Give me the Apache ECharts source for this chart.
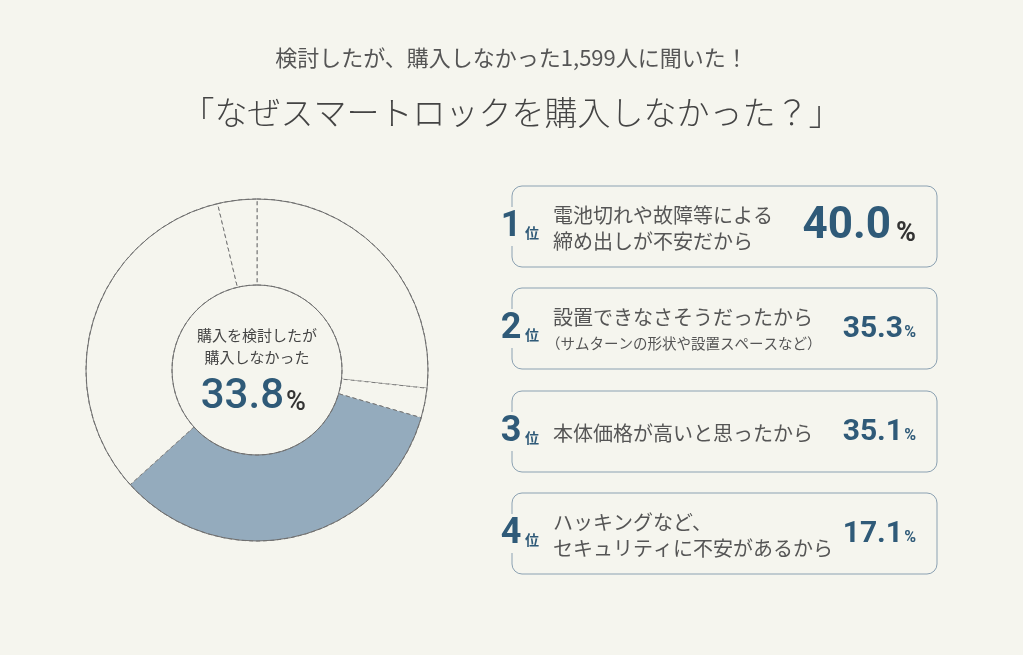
<!DOCTYPE html>
<html>
<head>
<meta charset="utf-8">
<script src="https://cdn.jsdelivr.net/npm/echarts@6/dist/echarts.min.js"></script>
<style>
  html, body { margin: 0; padding: 0; background: #f5f5ee; }
  #main { width: 1023px; height: 655px; }
</style>
</head>
<body>
<div id="main"></div>
<script>
// ドーナツの区分（上から時計回り、%）
var ringNames = ['区分1', '区分2', '購入を検討したが購入しなかった', '区分4', '区分5'];
var ringValues = [26.7, 2.8, 33.8, 33.0, 3.7];
var highlightIndex = 2;

// 購入しなかった理由ランキング
var ranks = ['1', '2', '3', '4'];
var reasons = [
  ['電池切れや故障等による', '締め出しが不安だから'],
  ['設置できなさそうだったから'],
  ['本体価格が高いと思ったから'],
  ['ハッキングなど、', 'セキュリティに不安があるから']
];
var notes = ['', '（サムターンの形状や設置スペースなど）', '', ''];
var shares = [40.0, 35.3, 35.1, 17.1];

var BG = '#f5f5ee';
var NAVY = '#2f5a78';
var JP = '"Noto Sans CJK JP", "Noto Sans", sans-serif';
var NUM = 'Roboto, "Noto Sans", sans-serif';

var myChart = echarts.init(document.getElementById('main'));

var graphics = [];

// 中央テキスト
graphics.push({
  type: 'text', x: 257, y: 335,
  style: { text: '購入を検討したが', font: '15px ' + JP, fill: '#444', textAlign: 'center', textVerticalAlign: 'middle' }
});
graphics.push({
  type: 'text', x: 257, y: 357,
  style: { text: '購入しなかった', font: '15px ' + JP, fill: '#444', textAlign: 'center', textVerticalAlign: 'middle' }
});
graphics.push({
  type: 'text', x: 284, y: 397,
  style: { text: ringValues[highlightIndex].toFixed(1), font: '500 42px ' + NUM, fill: NAVY, textAlign: 'right', textVerticalAlign: 'middle' }
});
graphics.push({
  type: 'text', x: 286, y: 403,
  style: { text: '%', font: '500 27px ' + NUM, fill: '#333', textAlign: 'left', textVerticalAlign: 'middle' }
});

// ランキングの枠
ranks.forEach(function (r, i) {
  var top = Math.round(186 + i * 102.4);
  var first = i === 0;
  graphics.push({
    type: 'rect',
    shape: { x: 512, y: top, width: 425, height: 81, r: 10 },
    style: { fill: 'none', stroke: '#8ba1b2', lineWidth: 1 }
  });
  graphics.push({
    type: 'rect',
    shape: { x: 506, y: top + 21, width: 12, height: 39 },
    style: { fill: BG }
  });
  graphics.push({
    type: 'text', x: 511, y: top + 41,
    style: { text: r, font: 'bold 36px ' + NUM, fill: NAVY, textAlign: 'center', textVerticalAlign: 'middle' }
  });
  graphics.push({
    type: 'text', x: 525, y: top + 47,
    style: { text: '位', font: 'bold 14px ' + JP, fill: NAVY, textAlign: 'left', textVerticalAlign: 'middle' }
  });
  var lines = reasons[i];
  if (lines.length === 2) {
    graphics.push({ type: 'text', x: 553, y: top + 29,
      style: { text: lines[0], font: '20px ' + JP, fill: '#555', textVerticalAlign: 'middle' } });
    graphics.push({ type: 'text', x: 553, y: top + 55,
      style: { text: lines[1], font: '20px ' + JP, fill: '#555', textVerticalAlign: 'middle' } });
  } else if (notes[i]) {
    graphics.push({ type: 'text', x: 553, y: top + 29,
      style: { text: lines[0], font: '20px ' + JP, fill: '#555', textVerticalAlign: 'middle' } });
    graphics.push({ type: 'text', x: 546, y: top + 55,
      style: { text: notes[i], font: '14.5px ' + JP, fill: '#555', textVerticalAlign: 'middle' } });
  } else {
    graphics.push({ type: 'text', x: 553, y: top + 42,
      style: { text: lines[0], font: '20px ' + JP, fill: '#555', textVerticalAlign: 'middle' } });
  }
  graphics.push({
    type: 'text', x: first ? 891 : 903, y: top + 41,
    style: { text: shares[i].toFixed(1), font: 'bold ' + (first ? 44 : 30) + 'px ' + NUM, fill: NAVY, textAlign: 'right', textVerticalAlign: 'middle' }
  });
  graphics.push({
    type: 'text', x: 916, y: top + (first ? 48 : 45),
    style: { text: '%', font: 'bold ' + (first ? 27 : 16) + 'px ' + NUM, fill: first ? '#333' : NAVY, textAlign: 'right', textVerticalAlign: 'middle' }
  });
});

var option = {
  backgroundColor: BG,
  animation: false,
  title: [
    {
      text: '検討したが、購入しなかった1,599人に聞いた！',
      left: 'center', top: 42,
      textStyle: { fontFamily: JP, fontSize: 22, fontWeight: 'normal', color: '#555' }
    },
    {
      text: '「なぜスマートロックを購入しなかった？」',
      left: 'center', top: 91,
      textStyle: { fontFamily: JP, fontSize: 33, fontWeight: 300, color: '#444' }
    }
  ],
  series: [
    {
      type: 'pie',
      center: [257, 370],
      radius: [85, 171],
      startAngle: 90,
      clockwise: true,
      silent: true,
      label: { show: false },
      labelLine: { show: false },
      emphasis: { disabled: true },
      data: ringValues.map(function (v, i) {
        return {
          name: ringNames[i],
          value: v,
          itemStyle: {
            color: i === highlightIndex ? '#94abbd' : BG,
            borderColor: '#777',
            borderWidth: 1,
            borderType: [4, 3]
          }
        };
      })
    },
    {
      type: 'pie',
      center: [257, 370],
      radius: [85, 171],
      silent: true,
      label: { show: false },
      labelLine: { show: false },
      emphasis: { disabled: true },
      itemStyle: { color: 'rgba(0,0,0,0)', borderColor: '#6f6f6f', borderWidth: 1 },
      data: [{ name: 'outline', value: 100 }]
    }
  ],
  graphic: graphics
};

myChart.setOption(option);
</script>
</body>
</html>
